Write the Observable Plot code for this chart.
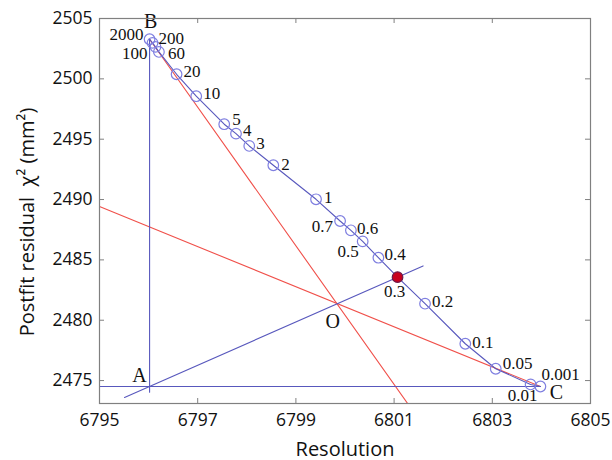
<!DOCTYPE html>
<html>
<head>
<meta charset="utf-8">
<script src="https://cdn.jsdelivr.net/npm/d3@7"></script>
<script src="https://cdn.jsdelivr.net/npm/@observablehq/plot@0.6"></script>
<style>
  body { margin: 0; background: #fff; }
  #chart svg { display: block; }
</style>
</head>
<body>
<div id="chart"></div>
<script>
// L-curve: regularisation parameter vs. resolution and postfit residual
const lambdaLabels = ["2000", "200", "100", "60", "20", "10", "5", "4", "3", "2", "1",
  "0.7", "0.6", "0.5", "0.4", "0.3", "0.2", "0.1", "0.05", "0.01", "0.001"];
const resolution = [6796.02, 6796.08, 6796.14, 6796.21, 6796.57, 6796.97, 6797.54, 6797.78,
  6798.05, 6798.54, 6799.41, 6799.90, 6800.12, 6800.36, 6800.68, 6801.07, 6801.63, 6802.45,
  6803.07, 6803.78, 6803.98];
const residual = [2503.28, 2502.98, 2502.65, 2502.23, 2500.38, 2498.56, 2496.24, 2495.46,
  2494.44, 2492.84, 2490.02, 2488.22, 2487.45, 2486.53, 2485.18, 2483.57, 2481.37, 2478.05,
  2475.98, 2474.68, 2474.51];

const xTicks = [6795, 6797, 6799, 6801, 6803, 6805];
const yTicks = [2475, 2480, 2485, 2490, 2495, 2500, 2505];
const xDomain = [6795, 6805];
const yDomain = [2473.1, 2505];

const cornerLambda = "0.3";              // chosen corner of the L-curve
const pointO = [6799.83, 2481.40];       // intersection of the two red lines
const rayExtent = [6795.51, 6801.59];    // extent of the line from A through the corner
const abLowerEnd = 2474.03;              // lower end of the vertical line through B

const xTitle = "Resolution";
const yTitle = "Postfit residual  χ² (mm²)";

// ---- layout ----
const W = 612, H = 460;
const mL = 99, mR = 22, mT = 18, mB = 57;
const innerW = W - mL - mR, innerH = H - mT - mB;

const blue = "#5858bd";
const circleBlue = "#7f7fe0";
const red = "#f0504a";
const axisGray = "#808080";
const serif = "'Liberation Serif', 'DejaVu Serif', serif";
const sans = "'Open Sans', 'Liberation Sans', sans-serif";

// label placement around each point: [dx, dy, textAnchor]
const placement = {
  "2000": [-6, -5, "end"], "200": [6, -4, "start"], "100": [-8, 7, "end"], "60": [9, 2, "start"],
  "20": [7, -3, "start"], "10": [7, -3, "start"], "5": [8, -5, "start"], "4": [7, -3, "start"],
  "3": [7, -2, "start"], "2": [8, -1, "start"], "1": [8, -2, "start"], "0.7": [-7, 6, "end"],
  "0.6": [6, -2, "start"], "0.5": [-4, 10, "end"], "0.4": [6, -3, "start"], "0.3": [-3, 14, "middle"],
  "0.2": [7, -2, "start"], "0.1": [7, -1, "start"], "0.05": [7, -5, "start"],
  "0.01": [7, 11, "end"], "0.001": [1, -12, "start"]
};

// ---- derived geometry ----
const points = lambdaLabels.map((lam, i) => ({lam, x: resolution[i], y: residual[i]}));
const B = points[0];
const C = points[points.length - 1];
const A = {x: B.x, y: C.y};
const O = {x: pointO[0], y: pointO[1]};
const K = points.find(p => p.lam === cornerLambda);

// red line from B through O down to the bottom of the frame
const redBO = [B, {x: B.x + (yDomain[0] - B.y) * (O.x - B.x) / (O.y - B.y), y: yDomain[0]}];
// red line from C through O out to the left edge of the frame
const redCO = [C, {x: xDomain[0], y: C.y + (xDomain[0] - C.x) * (O.y - C.y) / (O.x - C.x)}];
// blue line from A through the corner point
const slopeAK = (K.y - A.y) / (K.x - A.x);
const blueAK = rayExtent.map(x => ({x, y: A.y + (x - A.x) * slopeAK}));
const vertAB = [{x: B.x, y: B.y}, {x: B.x, y: abLowerEnd}];
const horizAC = [{x: xDomain[0], y: C.y}, {x: C.x, y: C.y}];

const letters = [
  {t: "B", p: B, dx: 1, dy: -18},
  {t: "A", p: A, dx: -10, dy: -11},
  {t: "O", p: O, dx: -4, dy: 18},
  {t: "C", p: C, dx: 16, dy: 6}
];

const lineOpts = {x: "x", y: "y", strokeWidth: 1.1, clip: true};
const fmt = d3.format("d");

const marks = [
  // inward ticks on all four sides
  Plot.ruleX(xTicks, {x: d => d, insetTop: innerH - 5, stroke: axisGray}),
  Plot.ruleX(xTicks, {x: d => d, insetBottom: innerH - 5, stroke: axisGray}),
  Plot.ruleY(yTicks, {y: d => d, insetRight: innerW - 5, stroke: axisGray}),
  Plot.ruleY(yTicks, {y: d => d, insetLeft: innerW - 5, stroke: axisGray}),
  Plot.axisX(xTicks, {tickSize: 0, tickPadding: 10, tickFormat: fmt, fontSize: 17.5, fontFamily: sans, fill: "#111", label: null}),
  Plot.axisY(yTicks, {tickSize: 0, tickPadding: 7, tickFormat: fmt, fontSize: 17.5, fontFamily: sans, fill: "#111", label: null}),

  // construction lines
  Plot.line(redBO, {...lineOpts, stroke: red}),
  Plot.line(redCO, {...lineOpts, stroke: red}),
  Plot.line(vertAB, {...lineOpts, stroke: blue}),
  Plot.line(horizAC, {...lineOpts, stroke: blue}),
  Plot.line(blueAK, {...lineOpts, stroke: blue}),

  // the L-curve itself
  Plot.line(points, {x: "x", y: "y", stroke: blue, strokeWidth: 1.1}),
  Plot.dot(points.filter(p => p !== K), {x: "x", y: "y", r: 5.3, stroke: circleBlue, strokeWidth: 1.2, fill: "none"}),
  Plot.dot([K], {x: "x", y: "y", r: 5.3, fill: "#c8001e", stroke: "#6a1a4a", strokeWidth: 1.2}),

  // λ labels
  ...points.map(p => {
    const [dx, dy, anchor] = placement[p.lam];
    return Plot.text([p], {x: "x", y: "y", text: "lam", dx, dy, textAnchor: anchor,
      fontSize: 17, fontFamily: serif, fill: "#111"});
  }),

  // point letters
  ...letters.map(l => Plot.text([l.p], {x: "x", y: "y", text: () => l.t, dx: l.dx, dy: l.dy,
    fontSize: 20, fontFamily: serif, fill: "#111"})),

  // axis titles
  Plot.text([xTitle], {frameAnchor: "bottom", text: d => d, dy: 52, fontSize: 20, fontFamily: sans, fill: "#111"}),
  Plot.text([yTitle], {frameAnchor: "left", textAnchor: "middle", text: d => d, rotate: -90, dx: -72, dy: 11, fontSize: 20, fontFamily: sans, fill: "#111"}),

  Plot.frame({stroke: axisGray, strokeWidth: 1.2})
];

const chart = Plot.plot({
  width: W, height: H,
  marginLeft: mL, marginRight: mR, marginTop: mT, marginBottom: mB,
  style: {background: "#fff", overflow: "visible"},
  x: {domain: xDomain, axis: null},
  y: {domain: yDomain, axis: null},
  marks
});
document.getElementById("chart").appendChild(chart);
</script>
</body>
</html>
